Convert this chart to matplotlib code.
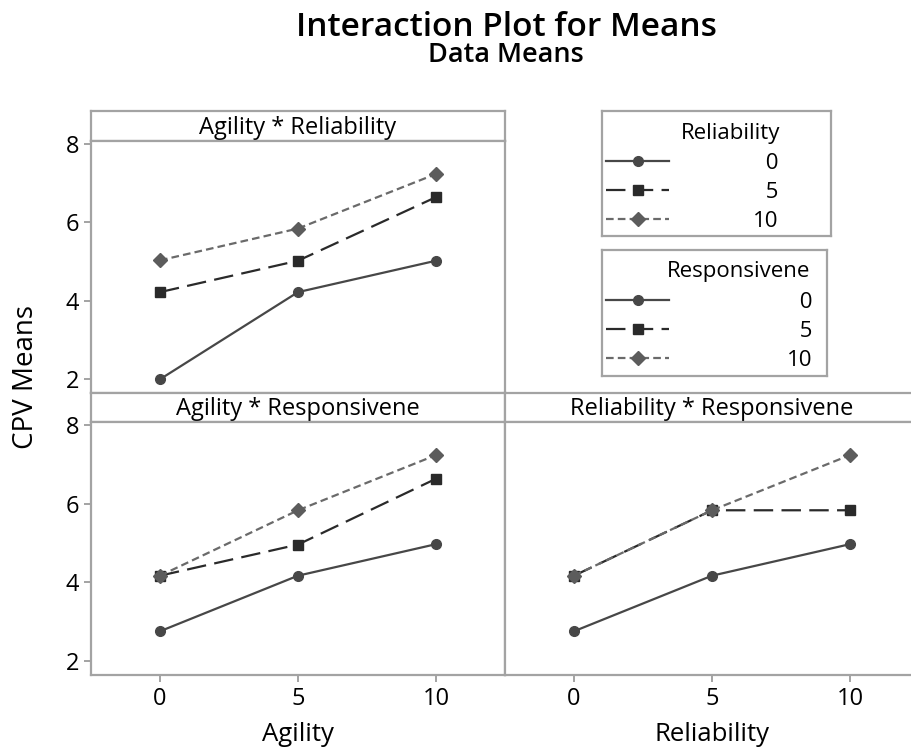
import matplotlib
matplotlib.use("Agg")
import matplotlib.pyplot as plt
from matplotlib.lines import Line2D

plt.rcParams['font.family'] = ['Open Sans', 'DejaVu Sans']
plt.rcParams['lines.scale_dashes'] = False

# Factor levels
levels = [0, 5, 10]
level_labels = ["\u20070", "\u20075", "10"]

# Agility * Reliability (one series per Reliability level)
ar_rel0 = [2.00, 4.22, 5.02]
ar_rel5 = [4.22, 5.02, 6.64]
ar_rel10 = [5.03, 5.84, 7.23]

# Agility * Responsiveness (one series per Responsiveness level)
ap_res0 = [2.76, 4.17, 4.97]
ap_res5 = [4.17, 4.96, 6.63]
ap_res10 = [4.17, 5.83, 7.23]

# Reliability * Responsiveness
rp_res0 = [2.76, 4.17, 4.97]
rp_res5 = [4.17, 5.83, 5.83]
rp_res10 = [4.17, 5.83, 7.23]

FRAME = "#a3a3a3"
styles = [
    dict(color="#474747", marker="o", ms=7, linestyle="-", mfc="#474747", mec="#474747"),
    dict(color="#2a2a2a", marker="s", ms=7, dashes=(14, 6), mfc="#2a2a2a", mec="#2a2a2a"),
    dict(color="#6a6a6a", marker="D", ms=7.5, dashes=(5.5, 3), mfc="#5c5c5c", mec="#5c5c5c"),
]

W, H = 911, 748
fig = plt.figure(figsize=(W / 100, H / 100), dpi=100)


def px_axes(x0, y0, x1, y1):
    # axes from pixel box (top-left origin)
    return fig.add_axes([x0 / W, 1 - y1 / H, (x1 - x0) / W, (y1 - y0) / H])


def frame(ax):
    for s in ax.spines.values():
        s.set_color(FRAME)
        s.set_linewidth(1.6)


def panel(x0, x1, top, head, bottom, title, series, show_x, show_y):
    hx = px_axes(x0, top, x1, head)
    hx.set_xticks([])
    hx.set_yticks([])
    frame(hx)
    hx.text(0.5, 0.45, title, ha="center", va="center", fontsize=17,
            transform=hx.transAxes)

    ax = px_axes(x0, head, x1, bottom)
    frame(ax)
    for ys, st in zip(series, styles):
        ax.plot(levels, ys, lw=1.6, **st)
    ax.set_xlim(-2.5, 12.5)
    ax.set_ylim(1.65, 8.07)
    ax.set_yticks([2, 4, 6, 8])
    ax.set_xticks(levels)
    ax.tick_params(colors=FRAME, labelcolor="black", labelsize=17,
                   length=5, width=1.4)
    if not show_x:
        ax.tick_params(axis="x", bottom=False, labelbottom=False)
    if not show_y:
        ax.tick_params(axis="y", left=False, labelleft=False)
    return ax


panel(91, 505, 111, 141, 393, "Agility * Reliability",
      [ar_rel0, ar_rel5, ar_rel10], False, True)
axl = panel(91, 505, 393, 422, 675, "Agility * Responsivene",
            [ap_res0, ap_res5, ap_res10], True, True)
axr = panel(505, 919, 393, 422, 675, "Reliability * Responsivene",
            [rp_res0, rp_res5, rp_res10], True, False)

axl.set_xlabel("Agility", fontsize=18.5, labelpad=8)
axr.set_xlabel("Reliability", fontsize=18.5, labelpad=8)

fig.text(26 / W, 1 - 377 / H, "CPV Means", rotation=90, ha="center",
         va="center", fontsize=20)

fig.text(506 / W, 1 - 27 / H, "Interaction Plot for Means", ha="center",
         va="center", fontsize=24, fontweight="semibold")
fig.text(506 / W, 1 - 55 / H, "Data Means", ha="center", va="center",
         fontsize=19.5, fontweight="semibold")


def legend_box(x0, y0, x1, y1, title, title_right, pad):
    lx = px_axes(x0, y0, x1, y1)
    lx.set_xticks([])
    lx.set_yticks([])
    frame(lx)
    lx.text((title_right - x0) / (x1 - x0), 1 - 22 / (y1 - y0), title,
            ha="right", va="center", fontsize=16, transform=lx.transAxes)
    handles = [Line2D([], [], lw=1.6, **st) for st in styles]
    leg = fig.legend(handles, level_labels, loc="upper left",
                     bbox_to_anchor=((x0 + 4) / W, 1 - (y0 + 42) / H),
                     frameon=False, fontsize=16, handlelength=2.85,
                     handletextpad=pad, labelspacing=0.35, borderpad=0.0,
                     borderaxespad=0.0)
    return leg


legend_box(602, 111, 831, 236, "Reliability", 780, 3.75)
legend_box(602, 250, 827, 376, "Responsivene", 810, 5.3)

fig.savefig("out.png", dpi=100)
